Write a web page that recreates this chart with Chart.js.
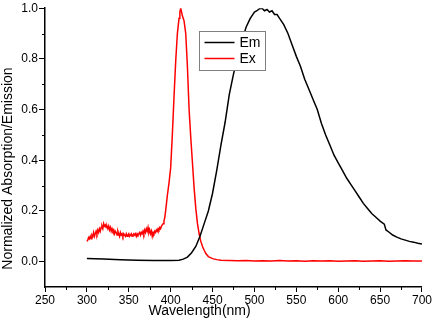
<!DOCTYPE html>
<html>
<head>
<meta charset="utf-8">
<script src="https://cdn.jsdelivr.net/npm/chart.js@4.4.1/dist/chart.umd.min.js"></script>
<style>
  html, body { margin: 0; padding: 0; background: #fff; }
  #wrap { width: 433px; height: 321px; position: relative; }
</style>
</head>
<body>
<div id="wrap"><canvas id="specChart"></canvas></div>
<script>
// Emission (black)
const emWavelength = [300, 320, 340, 360, 380, 400, 410, 415, 420, 425, 430, 435, 440, 445, 450, 455, 460, 465, 470, 475,
    480, 485, 490, 495, 500, 503, 506, 509, 512, 515, 518, 521, 524, 527, 530, 535, 540, 545, 550, 555, 560, 565, 570, 575,
    580, 585, 590, 595, 600, 605, 610, 615, 620, 625, 630, 635, 640, 645, 650, 655, 657, 660, 665, 670,
    675, 680, 685, 690, 695, 700];
const emValues = [0.012, 0.010, 0.008, 0.006, 0.005, 0.005, 0.006, 0.010, 0.018, 0.035, 0.06, 0.10, 0.15, 0.20, 0.27, 0.36, 0.46, 0.55, 0.66, 0.74,
    0.81, 0.87, 0.925, 0.96, 0.985, 0.99, 0.998, 1.0, 0.99, 0.995, 0.985, 0.99, 0.975, 0.975, 0.96, 0.935, 0.90, 0.855, 0.81, 0.77, 0.72, 0.68, 0.64, 0.60,
    0.545, 0.50, 0.46, 0.42, 0.39, 0.36, 0.33, 0.305, 0.28, 0.255, 0.23, 0.21, 0.19, 0.175, 0.16, 0.148, 0.125, 0.118, 0.105, 0.097,
    0.09, 0.085, 0.08, 0.077, 0.073, 0.07];

// Excitation (red)
const exWavelength = [300, 301, 302, 303, 304, 305, 306, 307, 308, 309, 310, 311, 312, 313, 314, 315, 316, 317, 318, 319,
    320, 321, 322, 323, 324, 325, 326, 327, 328, 329, 330, 331, 332, 333, 334, 335, 336, 337, 338, 339,
    340, 341, 342, 343, 344, 345, 346, 347, 348, 349, 350, 351, 352, 353, 354, 355, 356, 357, 358, 359,
    360, 361, 362, 363, 364, 365, 366, 367, 368, 369, 370, 371, 372, 373, 374, 375, 376, 377, 378, 379,
    380, 381, 382, 383, 384, 385, 386, 387, 388, 389, 390, 391, 392, 393, 394,
    396, 398, 400, 402, 404, 406, 408, 410, 411, 412, 413, 414,
    416, 418, 420, 422, 424, 426, 428, 430, 432, 434, 436, 438, 440, 442, 445, 450, 455, 460, 470, 480,
    490, 500, 510, 520, 530, 540, 550, 560, 570, 580, 590, 600, 610, 620, 630, 640, 650, 660, 670, 680,
    690, 700];
const exValues = [0.08, 0.085, 0.095, 0.09, 0.10, 0.09, 0.105, 0.10, 0.115, 0.10, 0.11, 0.12, 0.11, 0.125, 0.115, 0.13, 0.12, 0.135, 0.14, 0.13,
    0.15, 0.14, 0.145, 0.135, 0.14, 0.13, 0.14, 0.125, 0.135, 0.12, 0.13, 0.12, 0.125, 0.11, 0.12, 0.115, 0.105, 0.12, 0.11, 0.10,
    0.115, 0.105, 0.11, 0.10, 0.11, 0.105, 0.10, 0.11, 0.10, 0.105, 0.11, 0.10, 0.105, 0.11, 0.10, 0.105, 0.11, 0.105, 0.11, 0.10,
    0.11, 0.105, 0.11, 0.115, 0.105, 0.115, 0.11, 0.12, 0.11, 0.125, 0.115, 0.13, 0.12, 0.135, 0.115, 0.125, 0.11, 0.12, 0.10, 0.115,
    0.11, 0.12, 0.115, 0.125, 0.12, 0.13, 0.125, 0.135, 0.13, 0.14, 0.145, 0.15, 0.16, 0.175, 0.20,
    0.26, 0.31, 0.37, 0.50, 0.65, 0.79, 0.90, 0.96, 0.985, 1.0, 0.985, 0.97,
    0.95, 0.90, 0.77, 0.60, 0.49, 0.39, 0.29, 0.21, 0.15, 0.11, 0.08, 0.06, 0.045, 0.032, 0.02, 0.012, 0.008, 0.006, 0.005, 0.004,
    0.005, 0.003, 0.004, 0.003, 0.005, 0.003, 0.004, 0.002, 0.004, 0.003, 0.004, 0.002, 0.003, 0.004, 0.002, 0.003, 0.004, 0.002, 0.003, 0.004,
    0.003, 0.003];

const xTickValues = [250, 300, 350, 400, 450, 500, 550, 600, 650, 700];
const xMinorTicks = [275, 325, 375, 425, 475, 525, 575, 625, 675];
const yTickValues = [0.0, 0.2, 0.4, 0.6, 0.8, 1.0];
const yMinorTicks = [0.1, 0.3, 0.5, 0.7, 0.9];

const seriesLabels = ['Em', 'Ex'];
const seriesColors = ['#000000', '#ff0000'];

const FONT = '"Liberation Sans", Arial, sans-serif';

function toPoints(xs, ys) {
    return xs.map((x, i) => ({ x: x, y: ys[i] }));
}

// minor ticks, axis titles and boxed legend
const extrasPlugin = {
    id: 'extras',
    afterDraw(chart) {
        const ctx = chart.ctx;
        const xs = chart.scales.x;
        const ys = chart.scales.y;
        const area = chart.chartArea;
        ctx.save();
        ctx.strokeStyle = '#000';
        ctx.lineWidth = 1;
        xMinorTicks.forEach(v => {
            const px = Math.round(xs.getPixelForValue(v)) + 0.5;
            ctx.beginPath();
            ctx.moveTo(px, area.bottom);
            ctx.lineTo(px, area.bottom + 3);
            ctx.stroke();
        });
        yMinorTicks.forEach(v => {
            const py = Math.round(ys.getPixelForValue(v)) + 0.5;
            ctx.beginPath();
            ctx.moveTo(area.left, py);
            ctx.lineTo(area.left - 3, py);
            ctx.stroke();
        });

        // axis titles
        ctx.fillStyle = '#000';
        ctx.font = '14px ' + FONT;
        ctx.textAlign = 'center';
        ctx.textBaseline = 'middle';
        ctx.fillText('Wavelength(nm)', area.left + (area.right - area.left) * 0.41, 311);
        ctx.save();
        ctx.translate(8, area.top + (area.bottom - area.top) * 0.575);
        ctx.rotate(-Math.PI / 2);
        ctx.fillText('Normalized Absorption/Emission', 0, 0);
        ctx.restore();

        // legend box
        const lx = area.left + 154.5;
        const ly = 31.5;
        ctx.fillStyle = '#fff';
        ctx.fillRect(lx, ly, 66, 39);
        ctx.strokeStyle = '#7f7f7f';
        ctx.lineWidth = 1;
        ctx.strokeRect(lx, ly, 66, 39);
        chart.data.datasets.forEach((ds, i) => {
            const yy = ly + 11 + i * 16;
            ctx.strokeStyle = ds.borderColor;
            ctx.lineWidth = 1.5;
            ctx.beginPath();
            ctx.moveTo(lx + 5, yy);
            ctx.lineTo(lx + 35, yy);
            ctx.stroke();
            ctx.fillStyle = '#000';
            ctx.textAlign = 'left';
            ctx.textBaseline = 'middle';
            ctx.font = '14px ' + FONT;
            ctx.fillText(ds.label, lx + 40, yy + 1);
        });
        ctx.restore();
    }
};

const ctx = document.getElementById('specChart').getContext('2d');
new Chart(ctx, {
    type: 'line',
    data: {
        datasets: [
            {
                label: seriesLabels[0],
                data: toPoints(emWavelength, emValues),
                borderColor: seriesColors[0],
                borderWidth: 1.5,
                pointRadius: 0,
                tension: 0,
                fill: false
            },
            {
                label: seriesLabels[1],
                data: toPoints(exWavelength, exValues),
                borderColor: seriesColors[1],
                borderWidth: 1.5,
                pointRadius: 0,
                tension: 0,
                fill: false
            }
        ]
    },
    options: {
        responsive: true,
        maintainAspectRatio: false,
        animation: false,
        layout: { padding: { top: 6, right: 10, left: 0, bottom: 0 } },
        plugins: {
            legend: { display: false },
            tooltip: { enabled: false }
        },
        scales: {
            x: {
                type: 'linear',
                min: 250,
                max: 700,
                afterBuildTicks: scale => { scale.ticks = xTickValues.map(v => ({ value: v })); },
                afterFit: scale => { scale.height = 34; },
                ticks: {
                    color: '#000',
                    font: { family: FONT, size: 12 },
                    padding: 1,
                    maxRotation: 0,
                    autoSkip: false,
                    callback: v => String(v)
                },
                grid: {
                    drawOnChartArea: false,
                    drawTicks: true,
                    tickLength: 5,
                    tickColor: '#000',
                    tickWidth: 1
                },
                border: { display: true, color: '#000', width: 1.5 }
            },
            y: {
                type: 'linear',
                min: -0.1,
                max: 1.0,
                afterBuildTicks: scale => { scale.ticks = yTickValues.map(v => ({ value: v })); },
                afterFit: scale => { scale.width = 45; },
                ticks: {
                    color: '#000',
                    font: { family: FONT, size: 12 },
                    padding: 1,
                    autoSkip: false,
                    callback: v => v.toFixed(1)
                },
                grid: {
                    drawOnChartArea: false,
                    drawTicks: true,
                    tickLength: 6,
                    tickColor: '#000',
                    tickWidth: 1
                },
                border: { display: true, color: '#000', width: 1.5 }
            }
        }
    },
    plugins: [extrasPlugin]
});
</script>
</body>
</html>
